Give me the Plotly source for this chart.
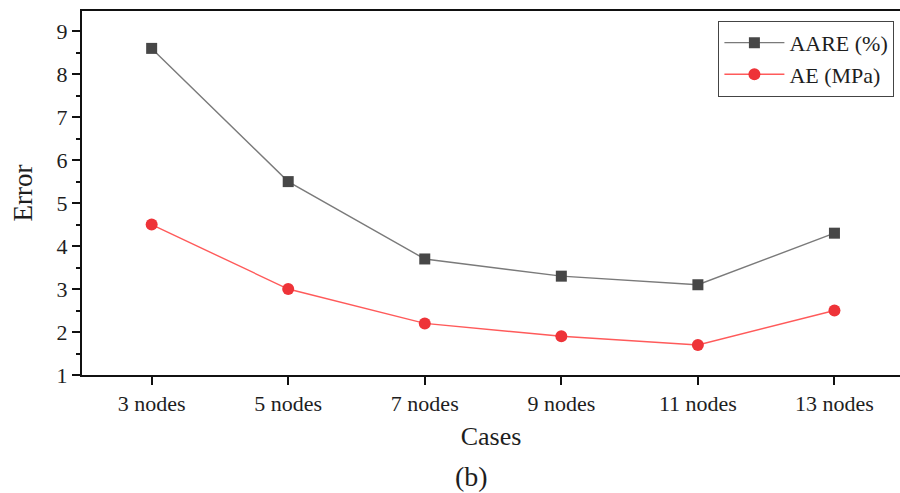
import plotly.graph_objects as go

cases = ["3 nodes", "5 nodes", "7 nodes", "9 nodes", "11 nodes", "13 nodes"]
aare = [8.6, 5.5, 3.7, 3.3, 3.1, 4.3]
ae = [4.5, 3.0, 2.2, 1.9, 1.7, 2.5]
y_ticks = [1, 2, 3, 4, 5, 6, 7, 8, 9]

FONT = "Liberation Serif"
TXT = "#1e1e1e"

fig = go.Figure()
fig.add_trace(go.Scatter(
    x=cases, y=aare, name="AARE (%)", mode="lines+markers",
    line=dict(color="#7a7a7a", width=1.4),
    marker=dict(symbol="square", size=11, color="#474747"),
))
fig.add_trace(go.Scatter(
    x=cases, y=ae, name="AE (MPa)", mode="lines+markers",
    line=dict(color="#ff5a5a", width=1.4),
    marker=dict(symbol="circle", size=12, color="#ee3338"),
))

fig.update_layout(
    width=900, height=493,
    margin=dict(l=82, r=0, t=11, b=118),
    paper_bgcolor="white", plot_bgcolor="white",
    font=dict(family=FONT, color=TXT, size=22),
    showlegend=True,
    legend=dict(
        x=0.778, y=0.973, xanchor="left", yanchor="top",
        bordercolor="#444", borderwidth=1, bgcolor="white",
        font=dict(family=FONT, size=22, color=TXT),
        tracegroupgap=0, itemwidth=60,
    ),
    xaxis=dict(
        type="category", categoryorder="array", categoryarray=cases,
        range=[-0.51, 5.48],
        showline=True, linecolor="#111", linewidth=2, mirror=True,
        ticks="outside", ticklen=8, tickwidth=1.5, tickcolor="#111",
        showgrid=False, zeroline=False,
        tickfont=dict(family=FONT, size=22, color=TXT),
        title=dict(text="Cases", font=dict(family=FONT, size=26, color=TXT), standoff=11),
    ),
    yaxis=dict(
        range=[1, 9.47], tickvals=y_ticks, mirror=False,
        showline=True, linecolor="#111", linewidth=2,
        ticks="outside", ticklen=8, tickwidth=1.5, tickcolor="#111",
        minor=dict(ticks="outside", ticklen=4, tickwidth=1.5, tickcolor="#111", dtick=0.5, tick0=1),
        showgrid=False, zeroline=False,
        tickfont=dict(family=FONT, size=22, color=TXT),
        title=dict(text="Error", font=dict(family=FONT, size=27, color=TXT), standoff=16),
    ),
)

fig.add_annotation(
    text="(b)", xref="paper", yref="paper", x=0.476, y=-0.278,
    xanchor="center", yanchor="middle", showarrow=False,
    font=dict(family=FONT, size=28, color=TXT),
)

fig.write_html("out.html")
